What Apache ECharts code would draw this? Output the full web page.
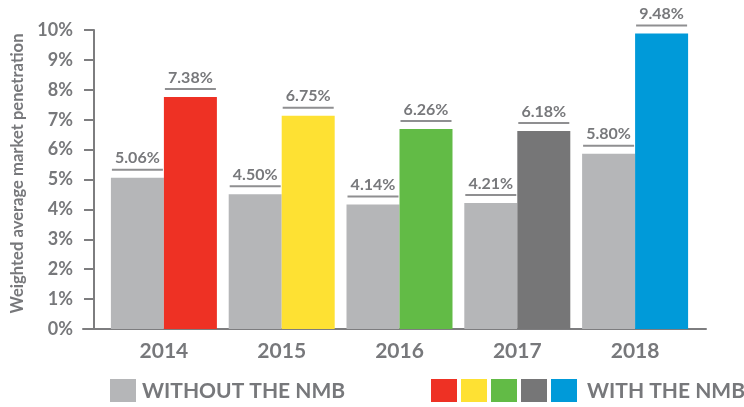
<!DOCTYPE html>
<html>
<head>
<meta charset="utf-8">
<script src="https://cdn.jsdelivr.net/npm/echarts@6/dist/echarts.min.js"></script>
<style>
html,body{margin:0;padding:0;background:#fff;}
#c{width:744px;height:407px;}
</style>
</head>
<body>
<div id="c"></div>
<script>
var years = ['2014', '2015', '2016', '2017', '2018'];
var withoutHeights = [5.06, 4.51, 4.16, 4.21, 5.86];
var withHeights = [7.76, 7.13, 6.69, 6.62, 9.88];
var withoutLabels = ['5.06%', '4.50%', '4.14%', '4.21%', '5.80%'];
var withLabels = ['7.38%', '6.75%', '6.26%', '6.18%', '9.48%'];
var withColors = ['#ee3124', '#fee133', '#62bb46', '#767677', '#009ad9'];
var withoutColor = '#b5b6b8';
var yTicks = [0, 1, 2, 3, 4, 5, 6, 7, 8, 9, 10];
var yName = 'Weighted average market penetration';
var legendWithout = 'WITHOUT THE NMB';
var legendWith = 'WITH THE NMB';

var txt = '#77787b';
var axisCol = '#7d7d7f';
var FF = 'Lato';

function makeLabel(labels) {
  return {
    show: true,
    position: 'top',
    distance: 7,
    formatter: function (p) { return '{t|' + labels[p.dataIndex] + '}\n{u|}'; },
    rich: {
      t: { fontFamily: FF, fontWeight: 'bold', fontSize: 16, color: txt, lineHeight: 21 },
      u: { width: 51, height: 2, backgroundColor: '#8f8f91' }
    }
  };
}

var chart = echarts.init(document.getElementById('c'), null, { renderer: 'canvas' });

var graphics = [];
graphics.push({ type: 'rect', shape: { x: 110, y: 379, width: 26, height: 23 }, style: { fill: withoutColor } });
graphics.push({ type: 'text', style: { x: 142, y: 391, text: legendWithout, fill: txt, font: 'bold 21px Lato', textVerticalAlign: 'middle', verticalAlign: 'middle' } });
withColors.forEach(function (c, i) {
  graphics.push({ type: 'rect', shape: { x: 431 + i * 30, y: 379, width: 26, height: 23 }, style: { fill: c } });
});
graphics.push({ type: 'text', style: { x: 587, y: 391, text: legendWith, fill: txt, font: 'bold 21px Lato', textVerticalAlign: 'middle', verticalAlign: 'middle' } });

chart.setOption({
  animation: false,
  grid: [
    { left: 105, width: 589, top: 30, height: 299 },
    { left: 83, width: 623, top: 30, height: 299 }
  ],
  xAxis: [
    {
      type: 'category', data: years, gridIndex: 0,
      axisLine: { show: false }, axisTick: { show: false },
      axisLabel: { fontFamily: FF, fontWeight: 'bold', fontSize: 21, color: txt, margin: 12 }
    },
    {
      type: 'value', gridIndex: 1, min: 0, max: 1,
      axisLine: { show: true, lineStyle: { color: axisCol, width: 2 } },
      axisTick: { show: false }, axisLabel: { show: false }, splitLine: { show: false }
    }
  ],
  yAxis: [
    {
      type: 'value', gridIndex: 0, min: yTicks[0], max: yTicks[yTicks.length - 1], interval: 1,
      offset: 11,
      name: yName, nameLocation: 'middle', nameGap: 65,
      nameTextStyle: { fontFamily: FF, fontWeight: 'bold', fontSize: 16.6, color: txt, padding: [0, 0, 0, 12] },
      axisLine: { show: true, lineStyle: { color: axisCol, width: 2 } },
      axisTick: { show: true, length: 10, lineStyle: { color: axisCol, width: 2 } },
      axisLabel: { fontFamily: FF, fontWeight: 'bold', fontSize: 18, color: txt, margin: 21, formatter: '{value}%' },
      splitLine: { show: false }
    },
    { type: 'value', gridIndex: 1, show: false, min: 0, max: 1 }
  ],
  series: [
    {
      type: 'bar', name: legendWithout, xAxisIndex: 0, yAxisIndex: 0,
      data: withoutHeights, barWidth: 53, barGap: '0%',
      itemStyle: { color: withoutColor },
      label: makeLabel(withoutLabels)
    },
    {
      type: 'bar', name: legendWith, xAxisIndex: 0, yAxisIndex: 0,
      data: withHeights.map(function (v, i) { return { value: v, itemStyle: { color: withColors[i] } }; }),
      barWidth: 53, barGap: '0%',
      label: makeLabel(withLabels)
    }
  ],
  graphic: graphics
});
</script>
</body>
</html>
